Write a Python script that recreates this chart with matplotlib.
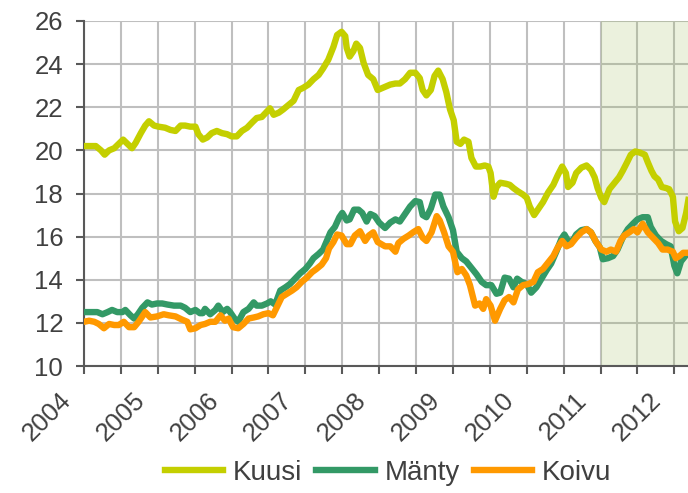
import matplotlib

matplotlib.use("Agg")
import matplotlib.pyplot as plt
from matplotlib.transforms import ScaledTranslation

# Kantohinnat (€/m³), viikkotasolta luettuina
kuusi_t = [2004.00, 2004.08, 2004.16, 2004.23, 2004.28, 2004.34, 2004.41, 2004.47, 2004.53, 2004.59,
           2004.65, 2004.70, 2004.77, 2004.83, 2004.88, 2004.95, 2005.01, 2005.10, 2005.17, 2005.24,
           2005.31, 2005.37, 2005.44, 2005.51, 2005.55, 2005.61, 2005.67, 2005.73, 2005.80, 2005.87,
           2005.94, 2006.00, 2006.07, 2006.14, 2006.21, 2006.28, 2006.34, 2006.41, 2006.48, 2006.52,
           2006.57, 2006.64, 2006.70, 2006.77, 2006.84, 2006.91, 2006.97, 2007.04, 2007.11, 2007.18,
           2007.24, 2007.31, 2007.38, 2007.43, 2007.49, 2007.54, 2007.56, 2007.60, 2007.65, 2007.69,
           2007.74, 2007.79, 2007.85, 2007.92, 2007.98, 2008.08, 2008.15, 2008.22, 2008.28, 2008.35,
           2008.42, 2008.49, 2008.55, 2008.59, 2008.64, 2008.70, 2008.75, 2008.80, 2008.86, 2008.91,
           2008.96, 2009.01, 2009.05, 2009.10, 2009.15, 2009.21, 2009.25, 2009.31, 2009.37, 2009.43,
           2009.48, 2009.51, 2009.55, 2009.59, 2009.64, 2009.72, 2009.77, 2009.82, 2009.88, 2009.95,
           2010.00, 2010.04, 2010.10, 2010.15, 2010.22, 2010.29, 2010.36, 2010.42, 2010.48, 2010.53,
           2010.56, 2010.62, 2010.67, 2010.74, 2010.81, 2010.87, 2010.92, 2010.96, 2011.01, 2011.05,
           2011.12, 2011.19, 2011.25, 2011.30, 2011.36, 2011.41, 2011.47, 2011.53, 2011.60, 2011.64,
           2011.69, 2011.73, 2011.78, 2011.83, 2011.89, 2011.93, 2011.98, 2012.01, 2012.06, 2012.11,
           2012.16, 2012.19]
kuusi = [20.2, 20.2, 20.2, 20.0, 19.8, 20.0, 20.1, 20.3, 20.5, 20.3,
         20.1, 20.35, 20.8, 21.15, 21.35, 21.15, 21.1, 21.05, 20.95, 20.9,
         21.15, 21.15, 21.1, 21.1, 20.75, 20.5, 20.6, 20.8, 20.9, 20.8,
         20.75, 20.65, 20.65, 20.9, 21.05, 21.3, 21.5, 21.55, 21.8, 21.95,
         21.65, 21.75, 21.9, 22.1, 22.3, 22.8, 22.9, 23.05, 23.3, 23.5,
         23.8, 24.2, 24.8, 25.35, 25.5, 25.3, 24.75, 24.35, 24.6, 24.95,
         24.75, 24.05, 23.5, 23.3, 22.8, 22.95, 23.05, 23.1, 23.1, 23.3,
         23.6, 23.6, 23.35, 22.8, 22.55, 22.8, 23.45, 23.7, 23.3, 22.7,
         21.9, 21.4, 20.4, 20.3, 20.5, 20.4, 19.65, 19.25, 19.25, 19.3,
         19.25, 18.95, 17.85, 18.3, 18.5, 18.45, 18.4, 18.25, 18.1, 17.95,
         17.8, 17.4, 17.0, 17.25, 17.6, 18.05, 18.4, 18.85, 19.25, 18.95,
         18.3, 18.5, 18.95, 19.2, 19.3, 19.1, 18.75, 18.25, 17.8, 17.6,
         18.2, 18.5, 18.75, 19.05, 19.45, 19.8, 19.95, 19.9, 19.8, 19.45,
         19.05, 18.8, 18.65, 18.3, 18.25, 18.2, 17.85, 16.7, 16.25, 16.4,
         17.1, 17.7]

manty_t = [2004.00, 2004.09, 2004.18, 2004.25, 2004.32, 2004.38, 2004.45, 2004.52, 2004.56, 2004.63,
           2004.68, 2004.73, 2004.79, 2004.86, 2004.92, 2004.99, 2005.06, 2005.13, 2005.22, 2005.31,
           2005.37, 2005.44, 2005.51, 2005.57, 2005.61, 2005.64, 2005.71, 2005.78, 2005.82, 2005.88,
           2005.94, 2005.98, 2006.04, 2006.09, 2006.16, 2006.23, 2006.30, 2006.34, 2006.41, 2006.48,
           2006.53, 2006.59, 2006.66, 2006.73, 2006.79, 2006.86, 2006.93, 2007.00, 2007.06, 2007.11,
           2007.18, 2007.24, 2007.29, 2007.34, 2007.40, 2007.46, 2007.50, 2007.56, 2007.60, 2007.66,
           2007.72, 2007.77, 2007.83, 2007.88, 2007.94, 2008.00, 2008.08, 2008.15, 2008.22, 2008.28,
           2008.35, 2008.42, 2008.49, 2008.55, 2008.59, 2008.64, 2008.70, 2008.76, 2008.82, 2008.87,
           2008.94, 2009.00, 2009.05, 2009.12, 2009.18, 2009.25, 2009.32, 2009.39, 2009.45, 2009.52,
           2009.59, 2009.64, 2009.70, 2009.76, 2009.82, 2009.87, 2009.93, 2010.00, 2010.06, 2010.13,
           2010.20, 2010.27, 2010.33, 2010.40, 2010.47, 2010.51, 2010.56, 2010.62, 2010.67, 2010.74,
           2010.81, 2010.87, 2010.93, 2010.99, 2011.03, 2011.10, 2011.17, 2011.23, 2011.30, 2011.37,
           2011.44, 2011.50, 2011.57, 2011.64, 2011.68, 2011.75, 2011.82, 2011.89, 2011.95, 2012.00,
           2012.04, 2012.09, 2012.16, 2012.19]
manty = [12.5, 12.5, 12.5, 12.4, 12.5, 12.6, 12.5, 12.5, 12.6, 12.35,
         12.2, 12.4, 12.7, 12.95, 12.85, 12.9, 12.9, 12.85, 12.8, 12.8,
         12.7, 12.5, 12.6, 12.45, 12.45, 12.65, 12.4, 12.6, 12.8, 12.5,
         12.65, 12.5, 12.2, 12.05, 12.5, 12.65, 12.95, 12.8, 12.8, 12.9,
         13.0, 12.85, 13.5, 13.65, 13.8, 14.05, 14.3, 14.5, 14.75, 15.0,
         15.2, 15.4, 15.8, 16.2, 16.45, 16.9, 17.1, 16.75, 16.8, 17.25,
         17.25, 17.1, 16.7, 17.05, 16.95, 16.65, 16.4, 16.65, 16.8, 16.7,
         17.05, 17.4, 17.65, 17.6, 17.0, 16.9, 17.3, 17.95, 17.95, 17.4,
         16.9, 16.3, 15.3, 15.0, 14.85, 14.55, 14.25, 13.9, 13.75, 13.75,
         13.35, 13.4, 14.1, 14.05, 13.65, 14.05, 13.9, 13.8, 13.4, 13.65,
         14.05, 14.45, 14.75, 15.3, 15.9, 16.1, 15.8, 15.8, 16.1, 16.3,
         16.35, 16.2, 15.8, 15.5, 14.95, 15.0, 15.1, 15.4, 15.95, 16.35,
         16.6, 16.8, 16.9, 16.9, 16.45, 16.05, 15.8, 15.65, 15.55, 14.65,
         14.3, 14.85, 15.15, 15.2]

koivu_t = [2004.00, 2004.07, 2004.14, 2004.20, 2004.27, 2004.34, 2004.41, 2004.47, 2004.54, 2004.61,
           2004.68, 2004.74, 2004.83, 2004.90, 2004.99, 2005.08, 2005.15, 2005.24, 2005.33, 2005.40,
           2005.44, 2005.51, 2005.58, 2005.64, 2005.71, 2005.78, 2005.85, 2005.91, 2005.96, 2006.02,
           2006.09, 2006.16, 2006.23, 2006.30, 2006.36, 2006.43, 2006.50, 2006.56, 2006.61, 2006.68,
           2006.75, 2006.82, 2006.88, 2006.95, 2007.02, 2007.09, 2007.15, 2007.22, 2007.28, 2007.32,
           2007.38, 2007.43, 2007.49, 2007.56, 2007.61, 2007.67, 2007.74, 2007.81, 2007.86, 2007.92,
           2007.98, 2008.08, 2008.15, 2008.22, 2008.26, 2008.33, 2008.40, 2008.46, 2008.53, 2008.59,
           2008.64, 2008.71, 2008.78, 2008.82, 2008.88, 2008.94, 2009.00, 2009.06, 2009.12, 2009.18,
           2009.23, 2009.30, 2009.36, 2009.41, 2009.45, 2009.51, 2009.57, 2009.64, 2009.70, 2009.76,
           2009.82, 2009.88, 2009.95, 2010.02, 2010.09, 2010.15, 2010.22, 2010.29, 2010.36, 2010.42,
           2010.48, 2010.54, 2010.60, 2010.67, 2010.74, 2010.81, 2010.87, 2010.94, 2011.01, 2011.08,
           2011.14, 2011.21, 2011.27, 2011.32, 2011.39, 2011.45, 2011.50, 2011.57, 2011.64, 2011.71,
           2011.78, 2011.84, 2011.91, 2011.98, 2012.02, 2012.07, 2012.12, 2012.19]
koivu = [12.05, 12.1, 12.05, 11.95, 11.75, 11.95, 11.9, 11.9, 12.05, 11.8,
         11.8, 12.05, 12.5, 12.25, 12.3, 12.4, 12.35, 12.3, 12.15, 12.05,
         11.7, 11.75, 11.9, 11.95, 12.05, 12.05, 12.35, 12.1, 12.2, 11.8,
         11.75, 11.95, 12.2, 12.25, 12.3, 12.4, 12.45, 12.35, 12.7, 13.2,
         13.35, 13.5, 13.65, 13.9, 14.1, 14.35, 14.5, 14.7, 15.0, 15.45,
         15.75, 16.1, 16.05, 15.65, 15.65, 16.05, 16.25, 15.8, 16.05, 16.2,
         15.75, 15.55, 15.55, 15.3, 15.7, 15.9, 16.05, 16.2, 16.35, 15.95,
         15.8, 16.2, 16.95, 16.75, 16.2, 15.55, 15.3, 14.35, 14.5, 14.2,
         13.75, 12.8, 12.9, 12.65, 13.1, 12.8, 12.1, 12.65, 13.05, 13.2,
         12.95, 13.55, 13.75, 13.8, 13.9, 14.35, 14.5, 14.8, 15.1, 15.5,
         15.8, 15.55, 15.65, 15.95, 16.2, 16.35, 16.2, 15.75, 15.4, 15.3,
         15.4, 15.3, 15.8, 16.05, 16.2, 16.35, 16.2, 16.6, 16.2, 15.95,
         15.7, 15.4, 15.4, 15.3, 15.0, 15.1, 15.25, 15.25]

years = [2004, 2005, 2006, 2007, 2008, 2009, 2010, 2011, 2012]
y_ticks = [10, 12, 14, 16, 18, 20, 22, 24, 26]
shade_start = 2011.0

text_col = "#404040"
plt.rcParams["font.family"] = ["Liberation Sans", "DejaVu Sans"]

fig = plt.figure(figsize=(6.88, 4.93), dpi=100)
ax = fig.add_axes([84 / 688, 1 - 366 / 493, 1 - 84 / 688, 345 / 493])

ax.plot(kuusi_t, kuusi, color="#C4CF00", lw=4.6, label="Kuusi", zorder=3)
ax.plot(manty_t, manty, color="#339966", lw=4.6, label="Mänty", zorder=4)
ax.plot(koivu_t, koivu, color="#FF9900", lw=4.6, label="Koivu", zorder=5)

# ennusteosa
ax.axvspan(shade_start, 2013, color="#9BBB59", alpha=0.2, lw=0, zorder=2)

ax.set_yticks(y_ticks)
half_years = [y + h for y in years for h in (0, 0.5)]
ax.set_xticks(half_years)
ax.set_xticklabels([str(int(v)) if v == int(v) else "" for v in half_years])
# rajat vasta tickien jälkeen, muuten set_xticks levittää akselia
ax.set_xlim(2004, 2012.185)
ax.set_ylim(10, 26)

ax.grid(True, color="#BFBFBF", lw=1.5, zorder=1)
ax.set_axisbelow(True)
for s in ["top", "right"]:
    ax.spines[s].set_visible(False)
for s in ["left", "bottom"]:
    ax.spines[s].set_color("#595959")
    ax.spines[s].set_linewidth(1.5)

ax.tick_params(axis="y", length=6, width=1.5, color="#595959", pad=9,
               labelsize=18.5, labelcolor=text_col)
ax.tick_params(axis="x", length=6, width=1.5, color="#595959", pad=10,
               labelsize=18.5, labelcolor=text_col)
shift = ScaledTranslation(-37 / 100, 0, fig.dpi_scale_trans)
for lab in ax.get_xticklabels():
    lab.set_rotation(45)
    lab.set_ha("center")
    lab.set_va("top")
    lab.set_transform(lab.get_transform() + shift)

fig.legend(loc="center", bbox_to_anchor=(388 / 688, 1 - 473 / 493), ncol=3,
           frameon=False, fontsize=20, handlelength=2.1, handletextpad=0.35,
           columnspacing=0.5, labelcolor=text_col, borderaxespad=0)

plt.savefig("out.png", dpi=100)
plt.close()
